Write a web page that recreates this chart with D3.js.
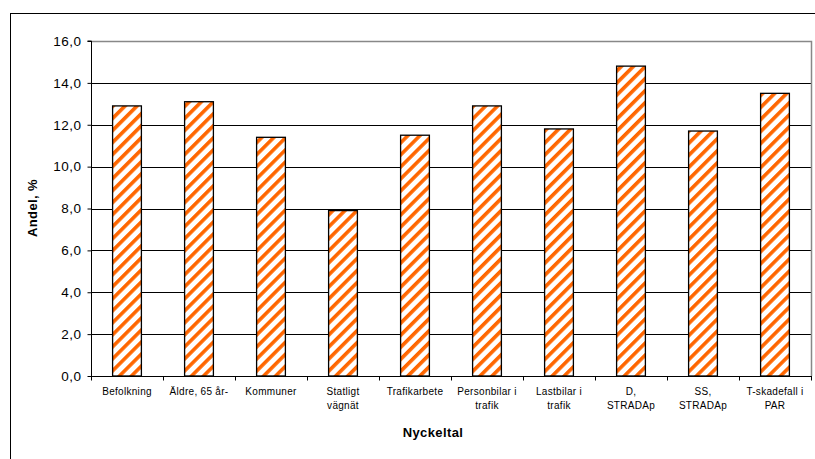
<!DOCTYPE html>
<html><head><meta charset="utf-8">
<script src="https://cdn.jsdelivr.net/npm/d3@7/dist/d3.min.js"></script>
<style>body{margin:0;background:#fff;} svg{display:block;font-family:"Liberation Sans",Arial,sans-serif;}</style>
</head><body>
<svg id="c" width="815" height="459"></svg>
<script>
const categories = ["Befolkning","Äldre, 65 år-","Kommuner","Statligt\nvägnät","Trafikarbete","Personbilar i\ntrafik","Lastbilar i\ntrafik","D,\nSTRADAp","SS,\nSTRADAp","T-skadefall i\nPAR"];
const values = [12.9, 13.1, 11.4, 7.9, 11.5, 12.9, 11.8, 14.8, 11.7, 13.5];
const yTicks = [0,2,4,6,8,10,12,14,16];
const yTitle = "Andel, %";
const xTitle = "Nyckeltal";

const svg = d3.select("#c");
const L = 91, R = 811, T = 41, B = 376;

// outer frame
svg.append("rect").attr("x",10.5).attr("y",13.5).attr("width",900).attr("height",900)
  .attr("fill","none").attr("stroke","#000").attr("stroke-width",1);

const defs = svg.append("defs");
const pat = defs.append("pattern").attr("id","stripes").attr("patternUnits","userSpaceOnUse")
  .attr("width",8.5).attr("height",8.5).attr("patternTransform","rotate(45)");
pat.append("rect").attr("width",8.5).attr("height",8.5).attr("fill","#fff");
pat.append("rect").attr("x",0).attr("width",3.6).attr("height",8.5).attr("fill","#FF6600");

const x = d3.scaleBand().domain(categories).range([L,R]).paddingInner(0.6).paddingOuter(0.3);
const y = d3.scaleLinear().domain([0,16]).range([B,T]);

// gridlines
svg.append("g").selectAll("line").data(yTicks.filter(t=>t>0 && t<16)).join("line")
  .attr("x1",L).attr("x2",R).attr("y1",d=>Math.round(y(d))+0.5).attr("y2",d=>Math.round(y(d))+0.5)
  .attr("stroke","#000").attr("stroke-width",1);

// plot border top/right gray
svg.append("path").attr("d",`M${L},${T+0.5}H${R+0.5}V${B}`).attr("fill","none")
  .attr("stroke","#888").attr("stroke-width",1.5);

// bars
svg.append("g").selectAll("rect").data(values).join("rect")
  .attr("x",(d,i)=>x(categories[i])).attr("width",x.bandwidth())
  .attr("y",d=>y(d)).attr("height",d=>B-y(d))
  .attr("fill","url(#stripes)").attr("stroke","#000").attr("stroke-width",1.3);

// y axis
const yAxis = d3.axisLeft(y).tickValues(yTicks).tickSize(4).tickPadding(6)
  .tickFormat(d=>d3.format(".1f")(d).replace(".",","));
const gy = svg.append("g").attr("transform",`translate(${L+0.5},0)`).call(yAxis);
gy.select(".domain").attr("stroke","#000").attr("d",`M-4,${T}H0V${B+0.5}`);
gy.selectAll(".tick text").attr("font-size","13.5px").attr("fill","#000").attr("letter-spacing","0.5px")
  .attr("font-family","'Liberation Sans',Arial,sans-serif");

// x axis
const step = x.step();
const bounds = d3.range(categories.length+1).map(i=>L+i*step);
svg.append("line").attr("x1",L).attr("x2",R).attr("y1",B+0.5).attr("y2",B+0.5).attr("stroke","#000");
svg.append("g").selectAll("line").data(bounds).join("line")
  .attr("x1",d=>Math.round(d)+0.5).attr("x2",d=>Math.round(d)+0.5)
  .attr("y1",B).attr("y2",B+4.5).attr("stroke","#000");

const xl = svg.append("g").selectAll("text").data(categories).join("text")
  .attr("text-anchor","middle").attr("font-size","10px").attr("letter-spacing","0.3px")
  .attr("transform",d=>`translate(${x(d)+x.bandwidth()/2},395)`);
xl.each(function(d){
  const lines = d.split("\n");
  d3.select(this).selectAll("tspan").data(lines).join("tspan")
    .attr("x",0).attr("dy",(l,i)=>i===0?0:13.5).text(l=>l);
});

// titles
svg.append("text").attr("x",433).attr("y",437).attr("text-anchor","middle")
  .attr("font-size","13px").attr("font-weight","bold").attr("letter-spacing","0.4px").text(xTitle);
svg.append("text").attr("transform","translate(37,208) rotate(-90)").attr("text-anchor","middle")
  .attr("font-size","13px").attr("font-weight","bold").attr("letter-spacing","0.4px").text(yTitle);
</script>
</body></html>
